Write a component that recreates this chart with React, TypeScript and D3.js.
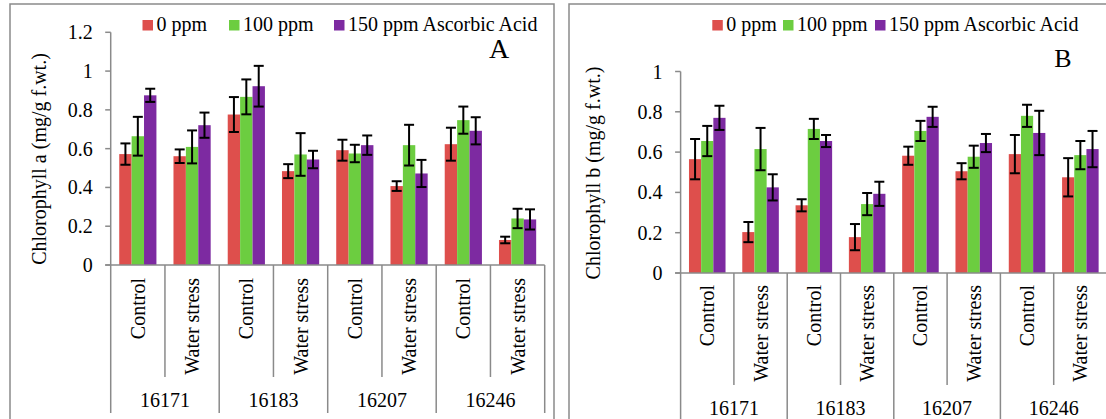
import React from "react";
import * as d3 from "d3";

const genotypes = ["16171", "16183", "16207", "16246"];
const treatments = ["Control", "Water stress"];
const seriesNames = ["0 ppm", "100 ppm", "150 ppm Ascorbic Acid"];
const seriesColors = ["#DE4F4C", "#6CCD40", "#7D2AA1"];

// Chlorophyll a (panel A): order 16171 C, 16171 WS, 16183 C, ...
const chlA0 = [0.572, 0.561, 0.776, 0.484, 0.592, 0.407, 0.623, 0.129];
const chlA100 = [0.664, 0.609, 0.867, 0.570, 0.575, 0.618, 0.747, 0.240];
const chlA150 = [0.875, 0.721, 0.922, 0.544, 0.618, 0.472, 0.692, 0.235];
const errA0 = [0.055, 0.035, 0.09, 0.036, 0.054, 0.025, 0.085, 0.017];
const errA100 = [0.10, 0.085, 0.09, 0.11, 0.045, 0.105, 0.07, 0.05];
const errA150 = [0.034, 0.065, 0.105, 0.045, 0.05, 0.07, 0.07, 0.052];

// Chlorophyll b (panel B)
const chlB0 = [0.565, 0.203, 0.336, 0.178, 0.582, 0.505, 0.59, 0.475];
const chlB100 = [0.655, 0.615, 0.715, 0.342, 0.705, 0.577, 0.78, 0.585];
const chlB150 = [0.77, 0.425, 0.655, 0.393, 0.775, 0.645, 0.695, 0.615];
const errB0 = [0.10, 0.05, 0.03, 0.065, 0.045, 0.04, 0.095, 0.095];
const errB100 = [0.075, 0.105, 0.05, 0.055, 0.05, 0.055, 0.055, 0.07];
const errB150 = [0.06, 0.065, 0.03, 0.06, 0.05, 0.045, 0.11, 0.09];

const ticksA = [0, 0.2, 0.4, 0.6, 0.8, 1, 1.2];
const ticksB = [0, 0.2, 0.4, 0.6, 0.8, 1];

const TS = { fontFamily: '"Liberation Serif"' };
const AXIS = "#8a8a8a";

type PanelProps = {
  values: number[][];
  errors: number[][];
  ticks: number[];
  yMax: number;
  frame: { x: number; y: number; w: number; h: number };
  x0: number;
  x1: number;
  yTop: number;
  yBottom: number;
  title: string;
  titleX: number;
  titleY: number;
  letter: string;
  letterX: number;
  letterY: number;
  letterSize: number;
  legendX: number[];
  catLabelGap: number;
  shortLineEnd: number;
  longLineEnd: number;
  groupLabelY: number;
};

function Panel(p: PanelProps) {
  const cats = d3.range(genotypes.length * treatments.length);
  const x = d3.scaleBand<number>().domain(cats).range([p.x0, p.x1]).padding(0);
  const xs = d3
    .scaleBand<number>()
    .domain(d3.range(seriesNames.length))
    .range([0, x.step()])
    .paddingInner(0)
    .paddingOuter(0.6875);
  const y = d3.scaleLinear().domain([0, p.yMax]).range([p.yBottom, p.yTop]);
  const fmt = (v: number) => (v === 0 ? "0" : d3.format("~g")(+v.toFixed(1)));

  return (
    <g>
      <rect x={p.frame.x} y={p.frame.y} width={p.frame.w} height={p.frame.h} fill="white" stroke={AXIS} strokeWidth={1.5} />
      {/* legend */}
      {seriesNames.map((s, i) => (
        <g key={s}>
          <rect x={p.legendX[i]} y={20} width={10.5} height={10.5} fill={seriesColors[i]} />
          <text x={p.legendX[i] + 14} y={31} fontSize={20} fill="#000" style={TS}>
            {s}
          </text>
        </g>
      ))}
      <text x={p.letterX} y={p.letterY} fontSize={p.letterSize} textAnchor="middle" fill="#000" style={TS}>
        {p.letter}
      </text>
      {/* y axis */}
      <line x1={p.x0} x2={p.x0} y1={y(0)} y2={y(p.yMax)} stroke={AXIS} strokeWidth={1.5} />
      {p.ticks.map((t) => (
        <g key={t}>
          <line x1={p.x0 - 5.5} x2={p.x0} y1={y(t)} y2={y(t)} stroke={AXIS} strokeWidth={1.5} />
          <text x={p.x0 - 18} y={y(t)} dy="0.35em" textAnchor="end" fontSize={20} fill="#000" style={TS}>
            {fmt(t)}
          </text>
        </g>
      ))}
      <text
        transform={`translate(${p.titleX},${p.titleY}) rotate(-90)`}
        textAnchor="middle"
        dy="0.35em"
        fontSize={20}
        fill="#000"
        style={TS}
      >
        {p.title}
      </text>
      {/* bars */}
      {cats.map((c) => (
        <g key={c} transform={`translate(${x(c)},0)`}>
          {seriesNames.map((s, si) => {
            const v = p.values[si][c];
            return (
              <rect key={s} x={xs(si)} y={y(v)} width={xs.bandwidth()} height={y(0) - y(v)} fill={seriesColors[si]} />
            );
          })}
        </g>
      ))}
      {/* error bars */}
      {cats.map((c) => (
        <g key={"e" + c} transform={`translate(${x(c)},0)`}>
          {seriesNames.map((s, si) => {
            const v = p.values[si][c];
            const e = p.errors[si][c];
            const cx = (xs(si) as number) + xs.bandwidth() / 2;
            return (
              <g key={s} stroke="#000" strokeWidth={2}>
                <line x1={cx} x2={cx} y1={y(v + e)} y2={y(v - e)} />
                <line x1={cx - 5} x2={cx + 5} y1={y(v + e)} y2={y(v + e)} />
                <line x1={cx - 5} x2={cx + 5} y1={y(v - e)} y2={y(v - e)} />
              </g>
            );
          })}
        </g>
      ))}
      {/* x axis */}
      <line x1={p.x0 - 5.5} x2={p.x1} y1={y(0)} y2={y(0)} stroke={AXIS} strokeWidth={1.5} />
      {d3.range(cats.length + 1).map((i) => {
        const xx = p.x0 + i * x.step();
        const long = i % 2 === 0;
        return (
          <line key={"d" + i} x1={xx} x2={xx} y1={y(0)} y2={long ? p.longLineEnd : p.shortLineEnd} stroke={AXIS} strokeWidth={1.5} />
        );
      })}
      {cats.map((c) => (
        <text
          key={"c" + c}
          transform={`translate(${(x(c) as number) + x.bandwidth() / 2},${y(0) + p.catLabelGap}) rotate(-90)`}
          textAnchor="end"
          dy="0.35em"
          fontSize={20}
          fill="#000"
          style={TS}
        >
          {treatments[c % 2]}
        </text>
      ))}
      {genotypes.map((g, gi) => (
        <text
          key={g}
          x={p.x0 + (gi * 2 + 1) * x.step()}
          y={p.groupLabelY}
          textAnchor="middle"
          fontSize={20}
          fill="#000"
          style={TS}
        >
          {g}
        </text>
      ))}
    </g>
  );
}

export default function App() {
  return (
    <svg
      width={1106}
      height={419}
      style={{ position: "absolute", left: 0, top: 0, background: "#fff" }}
    >
      <rect width={1106} height={419} fill="#fff" />
      <Panel
        values={[chlA0, chlA100, chlA150]}
        errors={[errA0, errA100, errA150]}
        ticks={ticksA}
        yMax={1.2}
        frame={{ x: 10, y: 4, w: 544, h: 440 }}
        x0={110.7}
        x1={544.7}
        yTop={32.3}
        yBottom={265}
        title="Chlorophyll a (mg/g f.wt.)"
        titleX={39}
        titleY={159}
        letter="A"
        letterX={499}
        letterY={58}
        letterSize={28}
        legendX={[142.5, 229, 334]}
        catLabelGap={13}
        shortLineEnd={377}
        longLineEnd={413}
        groupLabelY={407}
      />
      <Panel
        values={[chlB0, chlB100, chlB150]}
        errors={[errB0, errB100, errB150]}
        ticks={ticksB}
        yMax={1}
        frame={{ x: 569, y: 4, w: 600, h: 440 }}
        x0={680.6}
        x1={1107}
        yTop={71.5}
        yBottom={273}
        title="Chlorophyll b (mg/g f.wt.)"
        titleX={593}
        titleY={173}
        letter="B"
        letterX={1063}
        letterY={66.5}
        letterSize={26}
        legendX={[712.3, 783, 875]}
        catLabelGap={12}
        shortLineEnd={385}
        longLineEnd={440}
        groupLabelY={415}
      />
    </svg>
  );
}
